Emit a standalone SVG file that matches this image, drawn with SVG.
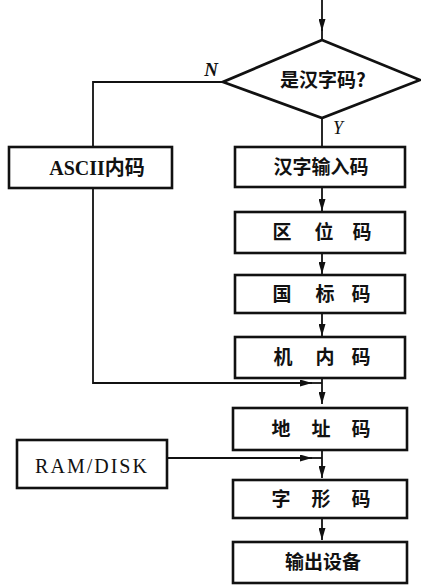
<svg xmlns="http://www.w3.org/2000/svg" width="421" height="586" viewBox="0 0 421 586">
<style>
.box{fill:#fff;stroke:#111;stroke-width:2.6}
.ln{fill:none;stroke:#111;stroke-width:1.8}
.cn{font-family:"Noto Sans CJK SC","Noto Sans CJK JP",sans-serif;font-weight:bold;font-size:19px;fill:#111;text-anchor:middle}
.lat{font-family:"Liberation Serif","Noto Sans CJK SC",serif;fill:#111;text-anchor:middle}
</style>
<defs>
<marker id="ah" markerUnits="userSpaceOnUse" markerWidth="12" markerHeight="7" refX="12" refY="3.5" orient="auto">
<path d="M0,0 L12,3.5 L0,7 z" fill="#111"/>
</marker>
</defs>
<g id="connectors">
<line class="ln" x1="322" y1="0" x2="322" y2="31" marker-end="url(#ah)"/>
<line class="ln" x1="322" y1="29" x2="322" y2="40"/>
<polyline class="ln" points="223,82 93,82 93,146"/>
<line class="ln" x1="322" y1="118" x2="322" y2="147"/>
<line class="ln" x1="322" y1="187" x2="322" y2="211" marker-end="url(#ah)"/>
<line class="ln" x1="322" y1="253" x2="322" y2="274" marker-end="url(#ah)"/>
<line class="ln" x1="322" y1="313" x2="322" y2="336" marker-end="url(#ah)"/>
<polyline class="ln" points="93,188 93,383 312,383" marker-end="url(#ah)"/>
<line class="ln" x1="310" y1="383" x2="322" y2="383"/>
<line class="ln" x1="322" y1="378" x2="322" y2="404" marker-end="url(#ah)"/>
<line class="ln" x1="167" y1="458" x2="312" y2="458" marker-end="url(#ah)"/>
<line class="ln" x1="310" y1="458" x2="322" y2="458"/>
<line class="ln" x1="322" y1="450" x2="322" y2="478" marker-end="url(#ah)"/>
<line class="ln" x1="322" y1="518" x2="322" y2="540" marker-end="url(#ah)"/>
<text class="lat" x="211" y="76" font-size="19" font-style="italic" font-weight="bold">N</text>
<text class="lat" x="338" y="134" font-size="18" font-style="italic">Y</text>
</g>
<g id="decision">
<polygon points="322,40 420,80 322,118 223,82" fill="#fff" stroke="#111" stroke-width="2.8"/>
<text class="cn" x="323" y="87" font-size="18">是汉字码?</text>
</g>
<g id="ascii">
<rect class="box" x="9" y="147" width="163" height="41"/>
<text class="lat" x="97" y="175" font-size="20" font-weight="bold">ASCII<tspan font-family="Noto Sans CJK SC,sans-serif">内码</tspan></text>
</g>
<g id="hanzi-input">
<rect class="box" x="235" y="147" width="170" height="40"/>
<text class="cn" x="321" y="174">汉字输入码</text>
</g>
<g id="quwei">
<rect class="box" x="235" y="212" width="170" height="41"/>
<text class="cn" x="282 324 362" y="239">区位码</text>
</g>
<g id="guobiao">
<rect class="box" x="235" y="275" width="170" height="38"/>
<text class="cn" x="282 325 361" y="301">国标码</text>
</g>
<g id="jinei">
<rect class="box" x="235" y="337" width="170" height="41"/>
<text class="cn" x="283 325 361" y="364">机内码</text>
</g>
<g id="dizhi">
<rect class="box" x="233" y="408" width="174" height="42"/>
<text class="cn" x="281 321 361" y="436">地址码</text>
</g>
<g id="ramdisk">
<rect class="box" x="17" y="440" width="150" height="48"/>
<text class="lat" x="92" y="473" font-size="20" letter-spacing="2">RAM/DISK</text>
</g>
<g id="zixing">
<rect class="box" x="233" y="480" width="174" height="38"/>
<text class="cn" x="281 321 361" y="506">字形码</text>
</g>
<g id="output">
<rect class="box" x="233" y="542" width="174" height="41"/>
<text class="cn" x="323" y="569">输出设备</text>
</g>
</svg>
